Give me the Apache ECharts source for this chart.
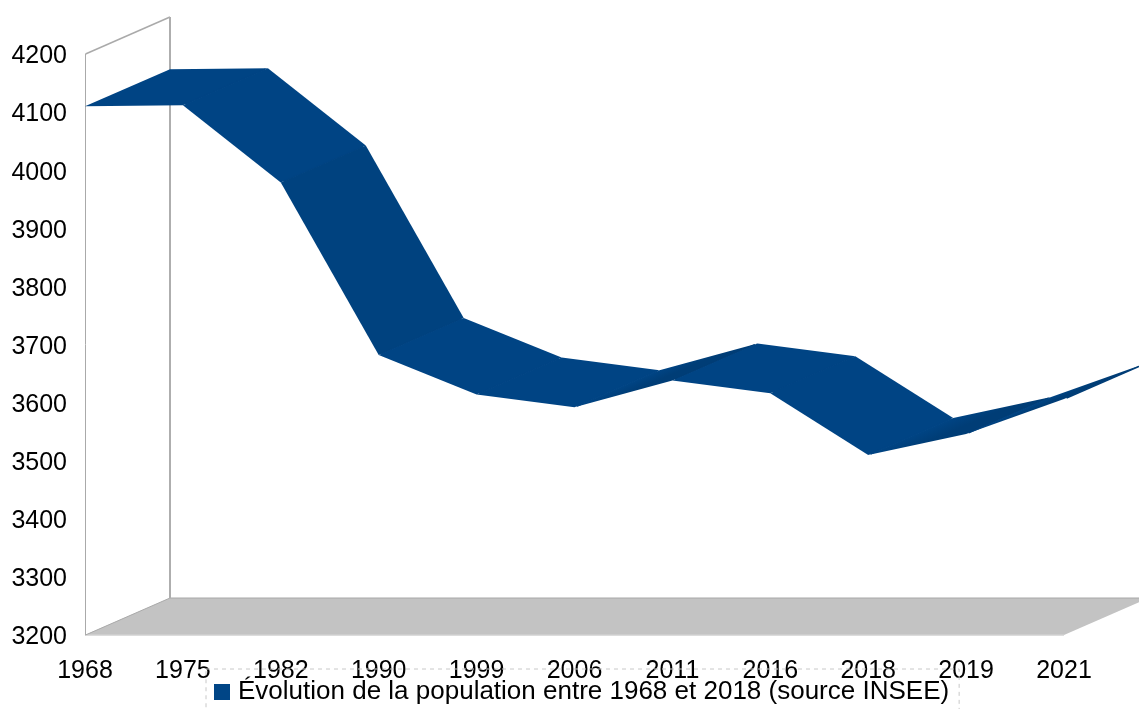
<!DOCTYPE html>
<html><head><meta charset="utf-8">
<style>html,body{margin:0;padding:0;background:#fff;overflow:hidden}#c{width:1139px;height:709px}</style>
<script src="https://cdn.jsdelivr.net/npm/echarts@6/dist/echarts.min.js"></script>
</head><body><div id="c"></div>
<script>
const categories = ['1968','1975','1982','1990','1999','2006','2011','2016','2018','2019','2021'];
const population = [4110,4112,3979,3682,3614,3592,3638,3616,3510,3546,3606];
const seriesName = 'Évolution de la population entre 1968 et 2018 (source INSEE)';
const yMin = 3200, yMax = 4200, yStep = 100;

const DEPTH_X = 85, DEPTH_Y = -37;
const FONT = '"Liberation Sans", Arial, sans-serif';
const back = p => [p[0] + DEPTH_X, p[1] + DEPTH_Y];
const along = (p, t) => [p[0] + DEPTH_X * t, p[1] + DEPTH_Y * t];
const last = categories.length - 1;
const BASE = '#004484', STEEP = '#00427f', RISING = '#003d76';

const isRising = i => i > 0 && population[i + 1] > population[i];
function solidColor(a, b, i) {
  if (isRising(i)) return RISING;
  return Math.abs(b[1] - a[1]) / (b[0] - a[0]) > 1 ? STEEP : BASE;
}
function segFill(a, b, i) {
  if (!isRising(i)) return solidColor(a, b, i);
  // shading runs across the ribbon, so its bands stay parallel to the depth direction
  const len = Math.hypot(DEPTH_X, DEPTH_Y), nx = -DEPTH_Y / len, ny = DEPTH_X / len;
  const t = (b[0] - a[0]) * nx + (b[1] - a[1]) * ny;
  return new echarts.graphic.LinearGradient(a[0], a[1], a[0] + nx * t, a[1] + ny * t,
    [{offset: 0, color: BASE}, {offset: 0.6, color: RISING}, {offset: 1, color: RISING}], true);
}

const chart = echarts.init(document.getElementById('c'), null, {renderer: 'canvas'});
chart.setOption({
  animation: false,
  backgroundColor: '#fff',
  grid: {left: 85, right: 75, top: 54, bottom: 74, containLabel: false},
  xAxis: {
    type: 'category', data: categories, boundaryGap: false,
    axisLine: {show: false}, axisTick: {show: false}, splitLine: {show: false},
    axisLabel: {color: '#000', fontFamily: FONT, fontSize: 25, margin: 24, interval: 0, hideOverlap: false, showMinLabel: true, showMaxLabel: true}
  },
  yAxis: {
    type: 'value', min: yMin, max: yMax, interval: yStep,
    axisLine: {show: false}, axisTick: {show: false}, splitLine: {show: false},
    axisLabel: {
      margin: 18, formatter: v => '{a|' + v + '}',
      rich: {a: {color: '#000', fontFamily: FONT, fontSize: 25, padding: [5, 0, 0, 0]}}
    }
  },
  legend: {
    data: [seriesName], left: 206, top: 669, icon: 'rect', itemWidth: 16, itemHeight: 16, itemGap: 0,
    padding: [10, 10, 10, 8], borderColor: '#c8c8c8', borderWidth: 1, borderType: [4, 4],
    textStyle: {color: '#000', fontFamily: FONT, fontSize: 26, padding: [0, 0, 0, 3]},
    selectedMode: false
  },
  series: [
    {
      type: 'custom', name: 'walls', silent: true, coordinateSystem: 'cartesian2d', clip: false, z: 1,
      data: [[0, yMin]],
      renderItem(params, api) {
        const p0 = api.coord([0, yMin]), p1 = api.coord([0, yMax]), pe = api.coord([last, yMin]);
        const b0 = back(p0), b1 = back(p1), be = back(pe);
        const h = p => [p[0] + 0.5, p[1]];
        return {type: 'group', children: [
          {type: 'polygon', shape: {points: [p0, b0, be, pe]}, style: {fill: '#c3c3c3', stroke: null}},
          {type: 'polyline', shape: {points: [b0, be]}, style: {stroke: '#a8a8a8', lineWidth: 1, fill: null}},
          {type: 'polyline', shape: {points: [p0, pe]}, style: {stroke: '#d0d0d0', lineWidth: 1.5, fill: null}},
          {type: 'polyline', shape: {points: [h(p0), h(p1)]}, style: {stroke: '#aaaaaa', lineWidth: 1, fill: null}},
          {type: 'polyline', shape: {points: [h(p1), b1]}, style: {stroke: '#aaaaaa', lineWidth: 1.5, fill: null}},
          {type: 'polyline', shape: {points: [b0, h(p0)]}, style: {stroke: '#aaaaaa', lineWidth: 1, fill: null}},
          {type: 'polyline', shape: {points: [b1, b0]}, style: {stroke: '#aeaeae', lineWidth: 2, fill: null}}
        ]};
      }
    },
    {
      type: 'custom', name: seriesName, coordinateSystem: 'cartesian2d', clip: false, z: 2,
      itemStyle: {color: '#004586'},
      data: population.slice(0, -1).map((v, i) => [i, v]),
      renderItem(params, api) {
        const i = params.dataIndex;
        const a = api.coord([i, population[i]]), b = api.coord([i + 1, population[i + 1]]);
        return {type: 'group', children: [
          {type: 'polygon', shape: {points: [a, b, back(b), back(a)]}, style: {fill: segFill(a, b, i), stroke: null}},
          // underlay for the next facet, so its antialiased edge does not leave a pale seam
          {type: 'polyline', shape: {points: [along(b, 0.03), along(b, 0.97)]}, style: {stroke: solidColor(a, b, i), lineWidth: 1.5, fill: null}}
        ]};
      }
    }
  ]
});
</script></body></html>
